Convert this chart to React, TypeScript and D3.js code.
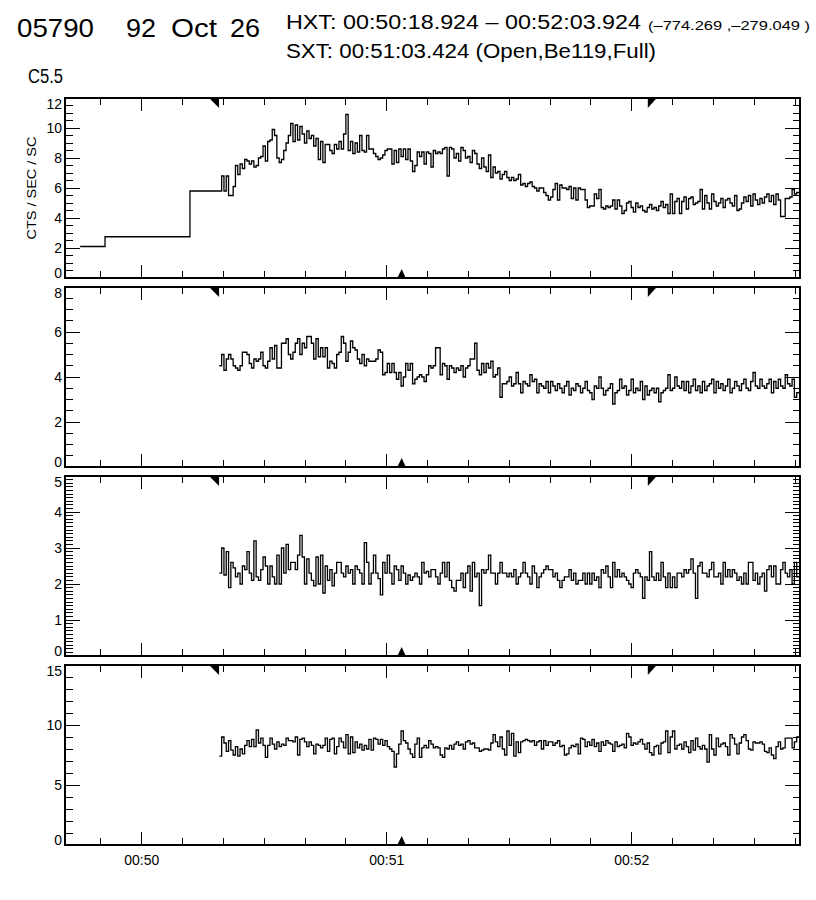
import React from 'react';
import * as d3 from 'd3';

// ---------- texts ----------
const OBS_ID = '05790';
const DATE_PARTS = ['92', 'Oct', '26'];
const HXT_LINE = 'HXT: 00:50:18.924 \u2013 00:52:03.924';
const COORD_TEXT = '(\u2013774.269 ,\u2013279.049 )';
const SXT_LINE = 'SXT: 00:51:03.424 (Open,Be119,Full)';
const GOES_CLASS = 'C5.5';
const Y_TITLE = 'CTS / SEC / SC';

// ---------- times ----------
const HXT_START = '00:50:18.924';
const HXT_END = '00:52:03.924';
const SXT_TIME = '00:51:03.424';
const AXIS_START = '00:49:41.2';
const AXIS_END = '00:52:41.2';
const X_TICK_LABELS = ['00:50', '00:51', '00:52'];

// ---------- data ----------
const PRE_EDGES = ['00:49:44.9', '00:49:51.0', '00:50:11.8'];
const PRE_VALUES = [2.1, 2.75, 5.8];
const FINE_START = '00:50:19.0';
const FINE_BIN_SEC = 0.5633;

const CH1 = [
  5.8, 6.8, 5.8, 6.8, 5.5, 5.5, 6.1, 7.5, 6.9, 7.6,
  7.3, 7.9, 7.8, 7.6, 7.8, 7.4, 7.5, 8.0, 8.1, 8.8,
  7.8, 9.1, 9.2, 9.9, 9.5, 8.0, 7.7, 7.9, 8.5, 9.0,
  9.5, 10.3, 9.1, 10.2, 9.2, 10.1, 9.6, 9.0, 9.8, 9.3,
  9.5, 8.8, 9.3, 7.9, 9.1, 7.7, 8.9, 8.9, 8.5, 8.3,
  8.9, 8.6, 9.1, 8.6, 9.6, 10.9, 8.5, 9.1, 8.3, 9.0,
  8.4, 9.5, 8.5, 8.4, 9.5, 8.6, 8.6, 8.3, 8.1, 7.9,
  8.0, 8.2, 8.5, 8.6, 8.6, 7.6, 8.5, 7.7, 8.6, 8.1,
  8.6, 7.9, 8.6, 7.8, 7.1, 7.5, 8.4, 8.1, 8.4, 7.6,
  8.4, 8.3, 7.4, 8.5, 8.3, 8.4, 8.3, 8.6, 8.7, 6.8,
  8.7, 8.6, 8.0, 8.3, 7.8, 8.7, 8.5, 8.0, 8.1, 7.7,
  8.5, 8.3, 7.6, 7.3, 8.0, 7.4, 7.1, 8.2, 6.7, 7.4,
  7.0, 7.1, 6.6, 6.9, 7.1, 6.7, 6.5, 6.7, 6.5, 6.6,
  6.9, 6.2, 6.3, 6.1, 6.3, 6.4, 6.1, 6.0, 5.8, 6.0,
  6.0, 5.7, 5.5, 5.2, 5.4, 5.9, 6.3, 5.2, 6.2, 6.0,
  6.0, 5.9, 6.1, 5.3, 6.0, 5.2, 6.0, 5.9, 5.9, 5.2,
  4.7, 4.8, 4.8, 5.6, 5.3, 5.9, 4.7, 4.6, 4.8, 4.7,
  4.8, 5.2, 4.6, 5.2, 4.8, 4.3, 4.5, 5.0, 5.1, 4.7,
  4.4, 5.0, 4.7, 4.8, 4.5, 4.4, 4.7, 4.9, 4.6, 4.7,
  4.5, 4.8, 5.1, 4.7, 4.9, 4.3, 5.6, 4.3, 5.1, 5.3,
  4.3, 5.1, 5.4, 4.6, 5.3, 5.4, 4.9, 5.0, 5.1, 5.9,
  4.6, 5.5, 5.0, 4.6, 5.6, 5.1, 4.8, 5.0, 5.3, 4.7,
  5.2, 5.3, 5.0, 4.8, 5.5, 4.5, 4.6, 5.0, 5.4, 5.1,
  5.5, 4.8, 5.6, 5.2, 4.9, 5.3, 5.0, 5.4, 5.6, 5.1,
  5.5, 4.9, 5.6, 5.2, 4.1, 4.1, 5.3, 5.3, 5.4, 5.9, 5.6, 5.7,
];

const CH2 = [
  4.5, 5.0, 4.3, 4.8, 5.0, 4.8, 4.5, 4.4, 4.3, 4.5,
  5.1, 5.1, 5.0, 4.6, 4.4, 4.8, 4.7, 4.8, 5.1, 4.5,
  4.4, 4.7, 5.3, 4.8, 5.4, 4.4, 4.4, 5.5, 5.5, 5.7,
  5.0, 4.8, 5.1, 5.5, 5.7, 5.0, 5.5, 5.3, 5.8, 5.8,
  5.5, 4.8, 5.7, 4.9, 5.3, 4.9, 5.3, 4.4, 4.7, 4.6,
  4.4, 5.0, 5.1, 5.8, 5.5, 4.7, 5.1, 5.6, 5.3, 5.2,
  4.8, 4.6, 5.0, 4.5, 4.8, 4.7, 4.7, 4.7, 4.8, 5.2,
  5.1, 4.1, 4.2, 4.6, 4.2, 4.6, 4.2, 3.9, 4.2, 3.6,
  4.0, 4.6, 4.3, 4.6, 3.7, 3.9, 4.0, 4.1, 4.0, 3.8,
  4.1, 4.5, 4.4, 4.5, 5.3, 5.3, 4.1, 4.6, 4.5, 3.9,
  4.5, 4.4, 4.2, 4.4, 4.3, 4.5, 4.0, 4.4, 4.5, 4.8,
  4.8, 5.5, 4.3, 4.1, 4.6, 4.2, 4.6, 4.4, 4.7, 4.0,
  4.1, 4.4, 3.1, 3.7, 3.7, 3.8, 4.0, 3.6, 3.7, 4.2,
  3.7, 3.3, 3.8, 3.7, 3.6, 4.1, 3.8, 3.9, 3.3, 3.7,
  3.6, 3.5, 3.8, 3.3, 3.8, 3.6, 3.4, 3.7, 3.5, 3.3,
  3.6, 3.8, 3.2, 3.5, 3.4, 3.7, 3.6, 3.3, 3.5, 3.8,
  3.4, 3.3, 3.0, 3.6, 3.5, 4.0, 3.5, 3.2, 3.4, 3.5,
  3.7, 2.8, 3.3, 3.4, 3.9, 3.5, 3.6, 3.2, 3.4, 3.9,
  3.3, 3.5, 3.4, 3.8, 3.0, 3.6, 3.2, 3.4, 3.5, 3.3,
  3.5, 2.9, 3.3, 3.4, 3.5, 4.1, 3.4, 3.5, 4.0, 3.6,
  3.5, 3.8, 3.4, 3.8, 3.3, 3.6, 3.9, 3.4, 3.6, 3.3,
  3.8, 3.4, 3.6, 3.7, 3.9, 3.3, 3.8, 3.5, 3.7, 3.4,
  3.6, 3.9, 3.3, 3.5, 3.8, 3.6, 3.4, 3.7, 3.9, 3.5,
  3.4, 3.8, 4.2, 3.6, 3.5, 3.9, 3.6, 3.5, 3.7, 3.9,
  3.3, 3.8, 3.5, 3.9, 3.6, 3.5, 4.1, 3.7, 3.6, 3.9, 3.1, 3.3,
];

const CH3 = [
  2.3, 3.0, 2.25, 2.9, 1.9, 2.6, 2.45, 2.2, 2.3, 2.0,
  2.5, 2.4, 2.9, 2.3, 2.1, 3.2, 2.2, 2.1, 2.4, 2.75,
  2.5, 2.0, 2.5, 2.2, 2.0, 2.8, 2.0, 3.0, 2.3, 3.1,
  2.4, 2.6, 2.6, 2.4, 2.8, 3.35, 2.75, 2.0, 2.7, 2.3,
  2.1, 1.95, 2.75, 2.0, 2.8, 1.75, 2.5, 2.1, 2.4, 1.95,
  2.3, 2.6, 2.6, 2.3, 2.2, 2.5, 2.3, 2.4, 2.0, 2.5,
  2.4, 2.3, 2.0, 3.15, 2.6, 2.0, 2.3, 2.8, 2.3, 2.15,
  1.7, 2.6, 2.3, 2.8, 2.3, 2.0, 2.5, 2.4, 2.1, 2.5,
  2.3, 2.0, 2.25, 2.1, 2.2, 2.3, 2.2, 2.0, 2.6, 2.3,
  2.35, 2.2, 2.4, 2.4, 2.2, 2.0, 2.3, 2.6, 2.2, 2.6,
  2.1, 1.9, 1.8, 2.1, 2.1, 2.3, 1.9, 2.3, 2.5, 1.8,
  2.6, 2.2, 2.3, 1.4, 2.4, 2.3, 2.4, 2.8, 2.3, 2.3,
  2.0, 2.3, 2.6, 2.3, 2.3, 2.2, 2.3, 2.2, 2.4, 2.0,
  2.2, 2.3, 2.6, 2.3, 2.2, 2.0, 2.5, 2.3, 1.9, 2.2,
  2.3, 2.4, 2.5, 2.4, 2.4, 2.2, 2.3, 2.1, 1.9, 2.1,
  2.2, 2.2, 2.4, 2.1, 2.3, 2.0, 2.1, 2.1, 2.3, 2.0,
  2.3, 2.0, 2.3, 2.1, 2.2, 1.9, 2.4, 2.3, 2.5, 2.2,
  1.9, 2.6, 2.2, 2.4, 2.2, 2.3, 2.2, 2.1, 2.0, 1.9,
  2.3, 2.4, 2.3, 2.2, 1.6, 2.2, 2.1, 2.9, 2.2, 2.1,
  2.3, 2.1, 2.6, 2.2, 1.9, 2.3, 1.9, 2.2, 1.9, 2.3,
  2.3, 2.2, 2.4, 2.3, 2.4, 2.7, 2.3, 1.6, 2.5, 2.6,
  2.3, 2.3, 2.2, 2.4, 2.6, 2.2, 2.2, 2.3, 2.0, 2.6,
  2.2, 2.4, 2.2, 2.4, 2.3, 2.1, 2.2, 2.0, 2.3, 2.0,
  2.6, 2.6, 2.1, 2.3, 2.0, 2.2, 2.3, 1.8, 2.4, 2.5,
  2.2, 2.5, 2.0, 2.0, 2.4, 2.6, 2.3, 2.2, 2.4, 2.0, 2.6, 2.2,
];

const CH4 = [
  7.4, 9.0, 8.5, 7.8, 8.7, 7.9, 7.5, 8.2, 7.4, 8.0,
  7.6, 8.3, 8.7, 8.2, 8.8, 8.2, 9.6, 8.5, 8.9, 8.3,
  7.3, 8.3, 8.9, 8.4, 8.0, 8.6, 8.2, 8.4, 8.3, 8.9,
  8.7, 8.7, 8.6, 9.0, 7.5, 8.8, 8.9, 8.6, 8.2, 8.6,
  8.3, 7.6, 8.4, 8.3, 8.1, 8.3, 8.9, 7.8, 8.8, 8.9,
  7.6, 8.2, 8.9, 8.6, 8.1, 9.2, 7.6, 9.0, 7.7, 8.6,
  8.1, 8.4, 7.9, 8.3, 8.0, 8.8, 7.9, 8.9, 8.8, 8.4,
  8.8, 8.3, 8.7, 8.2, 8.0, 7.8, 6.5, 7.6, 8.4, 9.5,
  8.7, 8.5, 8.0, 7.6, 7.3, 8.4, 8.9, 7.3, 8.1, 8.3,
  8.1, 8.7, 8.4, 8.1, 8.2, 8.1, 7.5, 7.3, 8.1, 8.0,
  8.3, 8.0, 8.4, 8.6, 8.3, 8.4, 8.0, 8.6, 8.7, 8.4,
  8.5, 8.1, 8.1, 7.8, 7.9, 8.0, 8.0, 7.9, 8.5, 9.2,
  8.6, 8.2, 9.0, 8.0, 7.5, 9.5, 8.3, 9.3, 7.4, 8.6,
  7.7, 8.6, 8.7, 8.8, 8.7, 8.6, 8.7, 8.3, 8.6, 8.7,
  8.0, 8.7, 8.3, 8.6, 8.6, 8.3, 8.5, 8.7, 8.2, 8.3,
  7.5, 7.6, 8.1, 8.3, 8.2, 8.4, 7.6, 8.9, 8.8, 8.2,
  8.6, 8.3, 8.8, 8.2, 8.5, 7.8, 8.6, 8.3, 8.7, 8.5,
  8.4, 7.8, 8.6, 8.2, 8.3, 8.4, 8.1, 9.3, 9.0, 8.3,
  8.5, 8.4, 8.6, 8.8, 8.4, 8.0, 8.5, 7.7, 7.5, 8.2,
  8.3, 7.6, 8.5, 8.6, 9.5, 7.7, 9.0, 9.5, 8.0, 8.3,
  8.4, 8.0, 8.6, 8.2, 7.7, 8.7, 7.9, 8.9, 8.2, 8.0,
  8.3, 8.0, 6.9, 9.2, 8.0, 7.5, 8.9, 8.2, 8.4, 8.5,
  8.2, 7.5, 9.2, 8.9, 8.4, 7.6, 8.5, 9.0, 9.2, 8.7,
  8.0, 7.9, 8.6, 8.5, 8.5, 8.6, 8.4, 7.8, 7.7, 8.1,
  7.5, 7.2, 8.2, 8.6, 8.0, 8.1, 8.9, 8.9, 8.9, 8.1, 8.6, 9.0,
];

const SERIES = [CH1, CH2, CH3, CH4];
const Y_MAX = [12, 8, 5, 15];
const Y_MAJOR = [2, 2, 1, 5];
const Y_MINOR = [0.5, 0.5, 0.1, 1];

// ---------- layout ----------
const W = 816;
const H = 900;
const LEFT = 65;
const RIGHT = 800;
const PANEL_TOPS = [98, 287, 476, 665];
const PANEL_H = 180;
const FONT = '"Liberation Sans", Arial, Helvetica, sans-serif';

const toSec = (s: string) => {
  const p = s.split(':').map(Number);
  return p[0] * 3600 + p[1] * 60 + p[2];
};

export default function App() {
  const x = d3.scaleLinear().domain([toSec(AXIS_START), toSec(AXIS_END)]).range([LEFT, RIGHT]);
  const [xs, xe] = x.domain();
  const xTicks = d3.range(Math.ceil(xs / 10) * 10, xe + 1e-6, 10);
  const isMinute = (t: number) => Math.abs(t / 60 - Math.round(t / 60)) < 1e-6;
  const t0 = toSec(FINE_START);
  const tH1 = toSec(HXT_START);
  const tH2 = toSec(HXT_END);
  const tS = toSec(SXT_TIME);

  return (
    <svg width={W} height={H} style={{ position: 'absolute', left: 0, top: 0, background: '#fff' }}>
      <rect x={0} y={0} width={W} height={H} fill="#fff" />
      {/* header */}
      <g fontFamily={FONT} fill="#000">
        <text x={17} y={36.5} fontSize={25} textLength={77} lengthAdjust="spacingAndGlyphs">{OBS_ID}</text>
        <text x={126} y={36.5} fontSize={25} textLength={30} lengthAdjust="spacingAndGlyphs">{DATE_PARTS[0]}</text>
        <text x={171} y={36.5} fontSize={25} textLength={46} lengthAdjust="spacingAndGlyphs">{DATE_PARTS[1]}</text>
        <text x={230} y={36.5} fontSize={25} textLength={30} lengthAdjust="spacingAndGlyphs">{DATE_PARTS[2]}</text>
        <text x={286} y={29} fontSize={20} textLength={355} lengthAdjust="spacingAndGlyphs">{HXT_LINE}</text>
        <text x={648} y={30} fontSize={13} textLength={162} lengthAdjust="spacingAndGlyphs">{COORD_TEXT}</text>
        <text x={286} y={58} fontSize={20} textLength={370} lengthAdjust="spacingAndGlyphs">{SXT_LINE}</text>
        <text x={28} y={83} fontSize={20} textLength={35} lengthAdjust="spacingAndGlyphs">{GOES_CLASS}</text>
        <text
          transform={`translate(36,${PANEL_TOPS[0] + PANEL_H / 2}) rotate(-90)`}
          textAnchor="middle"
          fontSize={13}
          textLength={103}
          lengthAdjust="spacingAndGlyphs"
        >
          {Y_TITLE}
        </text>
      </g>

      {SERIES.map((data, k) => {
        const top = PANEL_TOPS[k];
        const bottom = top + PANEL_H;
        const y = d3.scaleLinear().domain([0, Y_MAX[k]]).range([bottom, top]);
        const majors = d3.range(0, Y_MAX[k] + 1e-9, Y_MAJOR[k]);
        const minors = d3
          .range(0, Math.round(Y_MAX[k] / Y_MINOR[k]) + 1)
          .map((j) => j * Y_MINOR[k])
          .filter((v) => Math.abs(v / Y_MAJOR[k] - Math.round(v / Y_MAJOR[k])) > 1e-6);
        const pts: [number, number][] = [];
        if (k === 0) PRE_EDGES.forEach((e, j) => pts.push([toSec(e), PRE_VALUES[j]]));
        data.forEach((v, i) => pts.push([t0 + i * FINE_BIN_SEC, v]));
        pts.push([t0 + data.length * FINE_BIN_SEC, data[data.length - 1]]);
        const line = d3
          .line<[number, number]>()
          .x((d) => x(d[0]))
          .y((d) => y(d[1]))
          .curve(d3.curveStepAfter);
        const clipId = `clip${k}`;
        const a = x(tH1);
        const b = x(tH2);
        const s = x(tS);
        return (
          <g key={k}>
            <defs>
              <clipPath id={clipId}>
                <rect x={LEFT} y={top} width={RIGHT - LEFT} height={PANEL_H} />
              </clipPath>
            </defs>
            <path d={line(pts) || ''} fill="none" stroke="#000" strokeWidth={1.3} clipPath={`url(#${clipId})`} />
            <rect x={LEFT} y={top} width={RIGHT - LEFT} height={PANEL_H} fill="none" stroke="#000" strokeWidth={1.2} shapeRendering="crispEdges" />
            <g stroke="#000" strokeWidth={1} shapeRendering="crispEdges">
              {xTicks.map((t) => {
                const len = isMinute(t) ? 13 : 7;
                const xx = x(t);
                return (
                  <g key={t}>
                    <line x1={xx} x2={xx} y1={bottom} y2={bottom - len} />
                    <line x1={xx} x2={xx} y1={top} y2={top + len} />
                  </g>
                );
              })}
              {majors.map((v) => (
                <g key={'M' + v}>
                  <line x1={LEFT} x2={LEFT + 15} y1={y(v)} y2={y(v)} />
                  <line x1={RIGHT} x2={RIGHT - 15} y1={y(v)} y2={y(v)} />
                </g>
              ))}
              {minors.map((v) => (
                <g key={'m' + v}>
                  <line x1={LEFT} x2={LEFT + 8} y1={y(v)} y2={y(v)} />
                  <line x1={RIGHT} x2={RIGHT - 7} y1={y(v)} y2={y(v)} />
                </g>
              ))}
            </g>
            <g fontFamily={FONT} fontSize={14} textAnchor="end" fill="#000">
              {majors.map((v, j) => {
                let yy = y(v) + 5;
                if (j === 0) yy = bottom;
                if (j === majors.length - 1) yy = top + 10.5;
                return (
                  <text key={v} x={62} y={yy}>
                    {d3.format('d')(v)}
                  </text>
                );
              })}
            </g>
            <polygon points={`${a - 10},${top} ${a},${top} ${a},${top + 10}`} fill="#000" />
            <polygon points={`${b},${top} ${b + 9},${top} ${b},${top + 10}`} fill="#000" />
            <polygon points={`${s - 3.5},${bottom} ${s + 1},${bottom - 9} ${s + 5},${bottom}`} fill="#000" />
          </g>
        );
      })}

      <g fontFamily={FONT} fontSize={14} textAnchor="middle" fill="#000">
        {xTicks
          .filter((t) => isMinute(t))
          .map((t, j) => (
            <text key={t} x={x(t)} y={865}>
              {X_TICK_LABELS[j]}
            </text>
          ))}
      </g>
    </svg>
  );
}
